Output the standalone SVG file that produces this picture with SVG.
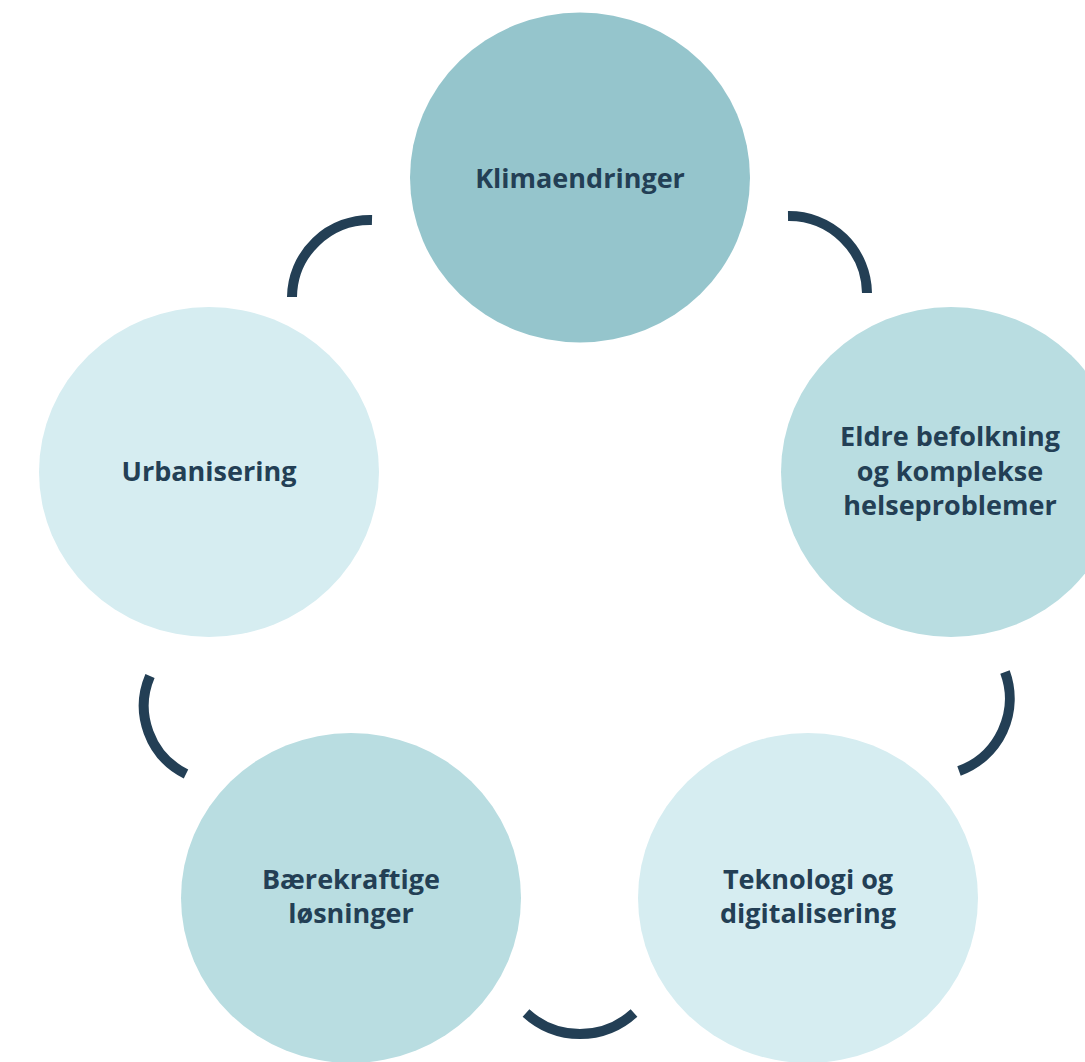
<svg xmlns="http://www.w3.org/2000/svg" width="1085" height="1062" viewBox="0 0 1085 1062">
<style>
.t{font-family:"Open Sans","Liberation Sans",sans-serif;font-weight:700;font-size:27px;fill:#233F55;text-anchor:middle}
.c1{fill:#95C5CC}.c2{fill:#B9DDE1}.c3{fill:#D6EDF1}
.arc{fill:none;stroke:#233F55;stroke-width:10;stroke-linecap:butt}
</style>
<rect width="1085" height="1062" fill="#FFFFFF"/>
<g id="node-klima"><ellipse class="c1" cx="580" cy="177.5" rx="170" ry="165"/><text class="t" x="580" y="188">Klimaendringer</text></g>
<g id="node-eldre"><ellipse class="c2" cx="951" cy="472" rx="170" ry="165"/><text class="t" x="950" y="446">Eldre befolkning</text><text class="t" x="950" y="481">og komplekse</text><text class="t" x="950" y="515">helseproblemer</text></g>
<g id="node-teknologi"><ellipse class="c3" cx="808" cy="898" rx="170" ry="165"/><text class="t" x="808" y="889">Teknologi og</text><text class="t" x="808" y="923">digitalisering</text></g>
<g id="node-baerekraft"><ellipse class="c2" cx="351" cy="898" rx="170" ry="165"/><text class="t" x="351" y="889">Bærekraftige</text><text class="t" x="351" y="923">løsninger</text></g>
<g id="node-urban"><ellipse class="c3" cx="209" cy="472" rx="170" ry="165"/><text class="t" x="209" y="481">Urbanisering</text></g>
<g id="connectors">
<path class="arc" d="M372 220 A78 78 0 0 0 292 297"/>
<path class="arc" d="M788 216 A78 78 0 0 1 867 293"/>
<path class="arc" d="M1005 672 A77 77 0 0 1 959 771"/>
<path class="arc" d="M526 1013 A80 80 0 0 0 634 1013"/>
<path class="arc" d="M150 676 A76 76 0 0 0 186 774"/>
</g>
</svg>
